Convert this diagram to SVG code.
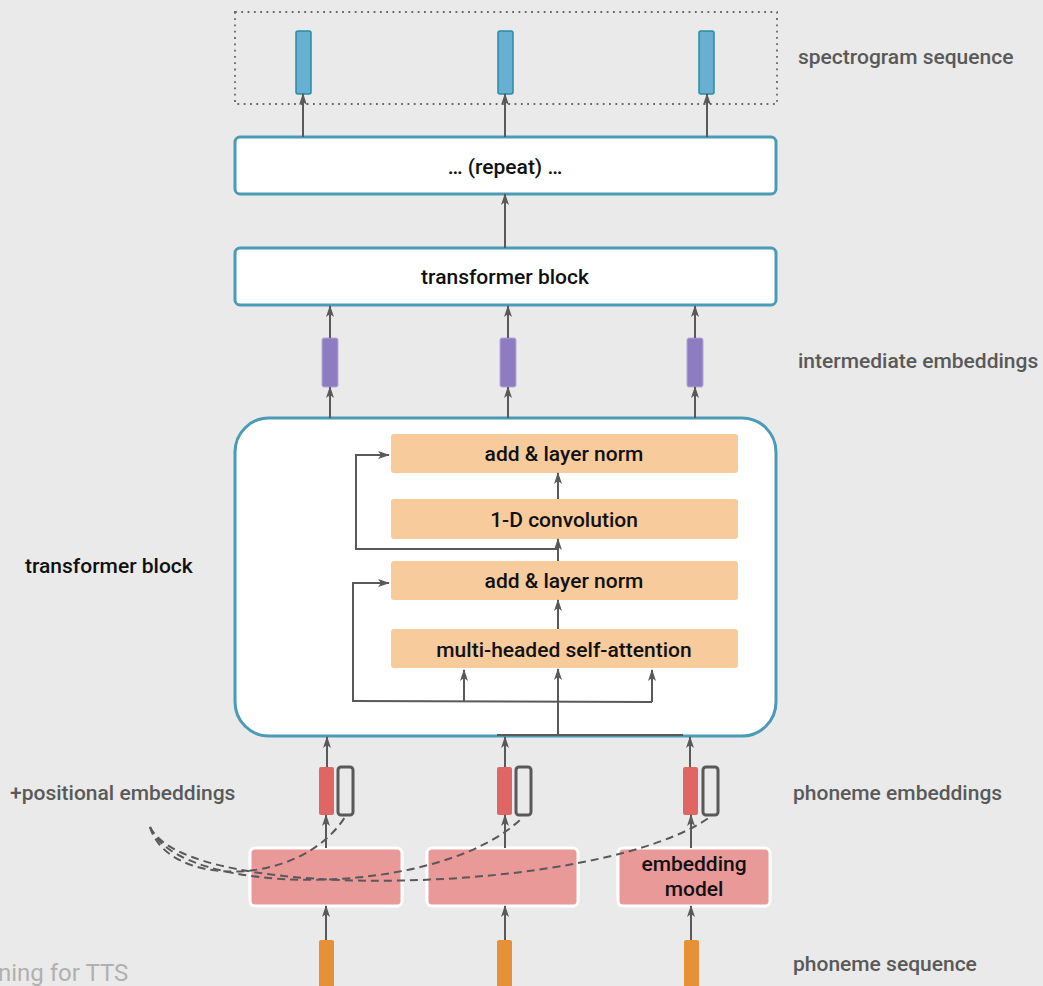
<svg xmlns="http://www.w3.org/2000/svg" width="1043" height="986" viewBox="0 0 1043 986">
  <style>
    .lbl { font-family: Roboto, "Liberation Sans", sans-serif; font-size: 21px; font-weight: 500; fill: #595959; }
    .txt { font-family: Roboto, "Liberation Sans", sans-serif; font-size: 21px; font-weight: 500; fill: #111; text-anchor: middle; }
    .block { fill: #fff; stroke: #4a9bb5; stroke-width: 3; }
    .op { fill: #f8cb9c; }
    .spec { fill: #67afd3; stroke: #2a8ca0; stroke-width: 1.5; }
    .inter { fill: #8e7cc3; stroke: #b4a7d6; stroke-width: 1; }
    .phon { fill: #e06666; }
    .pos { fill: none; stroke: #595959; stroke-width: 3; }
    .emb { fill: #ea9999; stroke: #fff; stroke-width: 3; }
    .seq { fill: #e69138; }
    .ln { fill: none; stroke: #595959; stroke-width: 2; }
    .arr { fill: none; stroke: #595959; stroke-width: 2; marker-end: url(#ah); }
    .dash { fill: none; stroke: #595959; stroke-width: 2; stroke-dasharray: 8 5; }
  </style>
  <defs>
    <marker id="ah" viewBox="0 0 12 10" refX="11" refY="5" markerWidth="12" markerHeight="10" markerUnits="userSpaceOnUse" orient="auto">
      <path d="M0,1 L12,5 L0,9 L3,5 z" fill="#595959"/>
    </marker>
  </defs>

  <rect width="1043" height="986" fill="#eaeaea"/>

  <!-- output spectrogram frames -->
  <g id="spectrogram">
    <rect x="235" y="12" width="542" height="92" fill="none" stroke="#666" stroke-width="1.8" stroke-dasharray="1.8 4.5"/>
    <rect class="spec" x="296" y="31" width="15" height="63" rx="2"/>
    <rect class="spec" x="498" y="31" width="15" height="63" rx="2"/>
    <rect class="spec" x="699" y="31" width="15" height="63" rx="2"/>
  </g>

  <g id="repeat">
    <rect class="block" x="235" y="137" width="541" height="57" rx="5"/>
    <text class="txt" x="505" y="174">… (repeat) …</text>
  </g>

  <g id="transformer-top">
    <rect class="block" x="235" y="248" width="541" height="57" rx="5"/>
    <text class="txt" x="505" y="284">transformer block</text>
  </g>

  <g id="intermediate">
    <rect class="inter" x="322" y="338" width="16" height="49" rx="2"/>
    <rect class="inter" x="500" y="338" width="16" height="49" rx="2"/>
    <rect class="inter" x="687" y="338" width="16" height="49" rx="2"/>
  </g>

  <g id="transformer-detail">
    <rect class="block" x="235" y="418" width="541" height="318" rx="34"/>
    <rect class="op" x="391" y="434" width="347" height="39" rx="3"/>
    <text class="txt" x="564" y="461">add &amp; layer norm</text>
    <rect class="op" x="391" y="499" width="347" height="40" rx="3"/>
    <text class="txt" x="564" y="527">1-D convolution</text>
    <rect class="op" x="391" y="561" width="347" height="39" rx="3"/>
    <text class="txt" x="564" y="588">add &amp; layer norm</text>
    <rect class="op" x="391" y="629" width="347" height="39" rx="3"/>
    <text class="txt" x="564" y="657">multi-headed self-attention</text>
  </g>

  <g id="phoneme-embeddings">
    <rect class="phon" x="319" y="767" width="15" height="48" rx="2"/>
    <rect class="pos" x="338" y="767" width="15" height="48" rx="3"/>
    <rect class="phon" x="497" y="767" width="15" height="48" rx="2"/>
    <rect class="pos" x="516" y="767" width="15" height="48" rx="3"/>
    <rect class="phon" x="683" y="767" width="15" height="48" rx="2"/>
    <rect class="pos" x="703" y="767" width="15" height="48" rx="3"/>
  </g>

  <g id="embedding-model">
    <rect class="emb" x="250" y="848" width="152" height="58" rx="5"/>
    <rect class="emb" x="427" y="848" width="151" height="58" rx="5"/>
    <rect class="emb" x="618" y="848" width="152" height="58" rx="5"/>
    <text class="txt" x="694" y="871">embedding</text>
    <text class="txt" x="694" y="896">model</text>
  </g>

  <g id="phoneme-sequence">
    <rect class="seq" x="319" y="940" width="15" height="50" rx="2"/>
    <rect class="seq" x="497" y="940" width="15" height="50" rx="2"/>
    <rect class="seq" x="684" y="940" width="15" height="50" rx="2"/>
  </g>

  <g id="connectors">
    <!-- into the spectrogram frames -->
    <line class="arr" x1="303" y1="137" x2="303" y2="94"/>
    <line class="arr" x1="505" y1="137" x2="505" y2="94"/>
    <line class="arr" x1="707" y1="137" x2="707" y2="94"/>
    <!-- transformer block to repeat -->
    <line class="arr" x1="505" y1="248" x2="505" y2="194"/>
    <!-- intermediate embeddings -->
    <line class="arr" x1="330" y1="338" x2="330" y2="306"/>
    <line class="arr" x1="508" y1="338" x2="508" y2="306"/>
    <line class="arr" x1="695" y1="338" x2="695" y2="306"/>
    <line class="arr" x1="330" y1="418" x2="330" y2="387"/>
    <line class="arr" x1="508" y1="418" x2="508" y2="387"/>
    <line class="arr" x1="695" y1="418" x2="695" y2="387"/>
    <!-- inside the transformer block -->
    <line class="arr" x1="558" y1="499" x2="558" y2="473"/>
    <line class="arr" x1="558" y1="561" x2="558" y2="539"/>
    <line class="arr" x1="558" y1="629" x2="558" y2="600"/>
    <polyline class="arr" points="558,549 356,549 356,455 389,455"/>
    <line class="ln" x1="497" y1="735" x2="683" y2="735"/>
    <line class="arr" x1="558" y1="735" x2="558" y2="669"/>
    <polyline class="ln" points="353,701 652,702"/>
    <line class="arr" x1="464" y1="702" x2="464" y2="670"/>
    <line class="arr" x1="652" y1="702" x2="652" y2="670"/>
    <polyline class="arr" points="353,702 353,583 389,583"/>
    <!-- phoneme embeddings into the transformer block -->
    <line class="arr" x1="327" y1="767" x2="327" y2="737"/>
    <line class="arr" x1="505" y1="767" x2="505" y2="737"/>
    <line class="arr" x1="690" y1="767" x2="690" y2="737"/>
    <!-- embedding model to phoneme embeddings -->
    <line class="arr" x1="326" y1="848" x2="326" y2="815"/>
    <line class="arr" x1="505" y1="848" x2="505" y2="815"/>
    <line class="arr" x1="691" y1="848" x2="691" y2="815"/>
    <!-- phoneme sequence to embedding model -->
    <line class="arr" x1="326" y1="940" x2="326" y2="906"/>
    <line class="arr" x1="505" y1="940" x2="505" y2="906"/>
    <line class="arr" x1="691" y1="940" x2="691" y2="906"/>
    <!-- positional embeddings -->
    <path class="dash" d="M150,827 C168,888 300,888 345,817"/>
    <path class="dash" d="M150,827 C178,898 440,900 523,817"/>
    <path class="dash" d="M150,827 C188,905 600,895 710,817"/>
  </g>

  <g id="labels">
    <text class="lbl" x="798" y="64">spectrogram sequence</text>
    <text class="lbl" x="798" y="368">intermediate embeddings</text>
    <text class="lbl" x="25" y="573" style="fill:#111">transformer block</text>
    <text class="lbl" x="10" y="800">+positional embeddings</text>
    <text class="lbl" x="793" y="800">phoneme embeddings</text>
    <text class="lbl" x="793" y="971">phoneme sequence</text>
    <text x="-2" y="981" style="font-family: Roboto, 'Liberation Sans', sans-serif; font-size: 24px; fill: #b0b0b0;">ning for TTS</text>
  </g>
</svg>
